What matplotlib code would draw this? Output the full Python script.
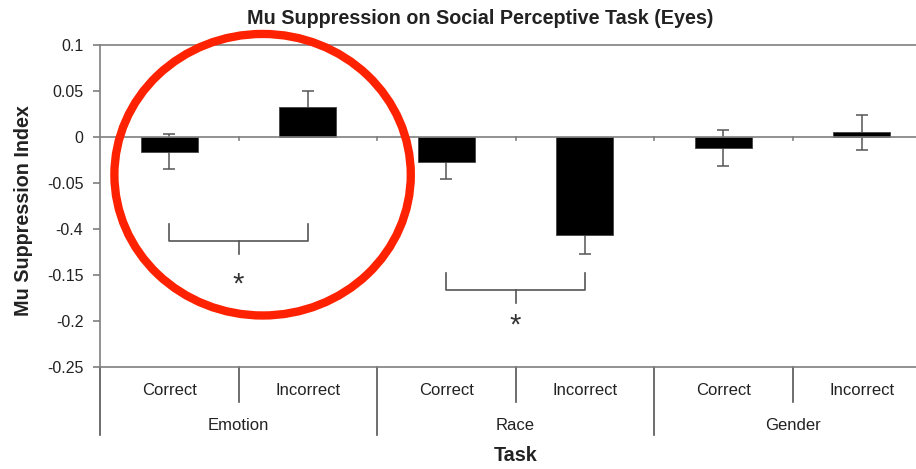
import matplotlib
matplotlib.use("Agg")
import matplotlib.pyplot as plt
from matplotlib.patches import Ellipse
import numpy as np

plt.rcParams["font.family"] = ["Liberation Sans", "DejaVu Sans"]

# ---- data ----
conditions = ["Correct", "Incorrect", "Correct", "Incorrect", "Correct", "Incorrect"]
tasks = ["Emotion", "Race", "Gender"]
mu_index = [-0.016, 0.033, -0.027, -0.107, -0.012, 0.005]
mu_sem = [0.019, 0.017, 0.019, 0.020, 0.020, 0.019]
ytick_values = [0.1, 0.05, 0, -0.05, -0.1, -0.15, -0.2, -0.25]
ytick_labels = ["0.1", "0.05", "0", "-0.05", "-0.4", "-0.15", "-0.2", "-0.25"]
# significant pairs (index of bars) and level of the bracket line
sig_pairs = [(0, 1), (2, 3)]
sig_levels = [-0.113, -0.166]

# bracket / asterisk layout
star_gaps = [0.047, 0.0395]

W, H = 916, 469
fig = plt.figure(figsize=(W / 100, H / 100), dpi=100)
ax_left, ax_right, ax_top, ax_bottom = 100, 931, 45, 367
ax = fig.add_axes([ax_left / W, 1 - ax_bottom / H,
                   (ax_right - ax_left) / W, (ax_bottom - ax_top) / H])

grey = "#7f7f7f"
txt = "#222222"
x = np.arange(len(mu_index))

ax.errorbar(x, mu_index, yerr=mu_sem, fmt="none", ecolor="#555555",
            elinewidth=1.1, capsize=4, capthick=1.1, zorder=2)
ax.bar(x, mu_index, width=0.41, color="black", edgecolor="#444444",
       linewidth=0.6, zorder=3)

ax.set_xlim(-0.5, len(x) - 0.5)
ax.set_ylim(-0.25, 0.1)
ax.axhline(0, color=grey, lw=1.2, zorder=4)

# small tick marks on the zero line between conditions
for b in np.arange(0.5, len(x) - 0.5, 1.0):
    ax.plot([b, b], [0, -0.0035], color=grey, lw=1.2, zorder=4)

for s in ["left", "top", "bottom"]:
    ax.spines[s].set_color(grey)
    ax.spines[s].set_linewidth(1.2)
ax.spines["right"].set_visible(False)

ax.set_yticks(ytick_values)
ax.set_yticklabels(ytick_labels, fontsize=11.5, color=txt)
ax.tick_params(axis="y", direction="out", length=5, width=1.2, color=grey, pad=7)
ax.set_xticks([])

# two-level category axis
tr = ax.get_xaxis_transform()
for i, c in enumerate(conditions):
    ax.text(i, -0.072, c, transform=tr, ha="center", va="center",
            fontsize=12, color=txt)
for g, t in enumerate(tasks):
    ax.text(2 * g + 0.5, -0.182, t, transform=tr, ha="center", va="center",
            fontsize=12, color=txt)
for g in range(len(tasks)):
    ax.plot([2 * g + 0.5] * 2, [0, -0.108], transform=tr, color="#555555",
            lw=1.2, clip_on=False)
for g in range(len(tasks) + 1):
    ax.plot([2 * g - 0.5] * 2, [0, -0.212], transform=tr, color="#555555",
            lw=1.2, clip_on=False)

# significance brackets
for (a, b), lev, gap in zip(sig_pairs, sig_levels, star_gaps):
    arm, stem = 0.018, 0.014
    ax.plot([x[a], x[a], x[b], x[b]], [lev + arm, lev, lev, lev + arm],
            color="#555555", lw=1.2, zorder=4)
    mid = (x[a] + x[b]) / 2
    ax.plot([mid, mid], [lev, lev - stem], color="#555555", lw=1.2, zorder=4)
    ax.text(mid, lev - gap, "*", ha="center", va="center", fontsize=21,
            color="#333333")

# highlight ring around the Emotion pair
ring = Ellipse((0.674, -0.041), 2.14, 0.306, fill=False, edgecolor="#ff2200",
               linewidth=6, zorder=6, clip_on=False)
ax.add_patch(ring)

fig.text(480 / W, 1 - 19 / H, "Mu Suppression on Social Perceptive Task (Eyes)",
         ha="center", va="center", fontsize=14.2, fontweight="bold", color=txt)
fig.text(24 / W, 1 - 211 / H, "Mu Suppression Index", rotation=90,
         ha="center", va="center", fontsize=14.2, fontweight="bold", color=txt)
fig.text(516 / W, 1 - 455 / H, "Task", ha="center", va="center",
         fontsize=14.2, fontweight="bold", color=txt)

fig.savefig("out.png", dpi=100)
